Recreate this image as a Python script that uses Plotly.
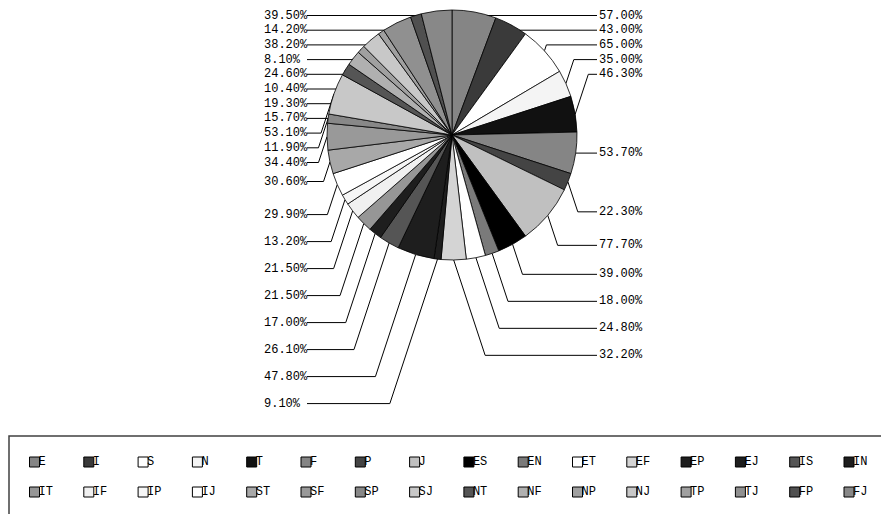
import math
import plotly.graph_objects as go

# Catégories et valeurs (sens horaire depuis midi)
categories = ["E", "I", "S", "N", "T", "F", "P", "J",
              "ES", "EN", "ET", "EF", "EP", "EJ", "IS", "IN",
              "IT", "IF", "IP", "IJ", "ST", "SF", "SP", "SJ",
              "NT", "NF", "NP", "NJ", "TP", "TJ", "FP", "FJ"]
valeurs = [57.0, 43.0, 65.0, 35.0, 46.3, 53.7, 22.3, 77.7,
           39.0, 18.0, 24.8, 32.2, 9.1, 47.8, 26.1, 17.0,
           21.5, 21.5, 13.2, 29.9, 30.6, 34.4, 11.9, 53.1,
           15.7, 19.3, 10.4, 24.6, 8.1, 38.2, 14.2, 39.5]
etiquettes = [f"{v:.2f}%" for v in valeurs]

couleurs = ["#858585", "#3a3a3a", "#ffffff", "#f4f4f4", "#111111", "#858585", "#444444", "#c0c0c0",
            "#000000", "#7a7a7a", "#ffffff", "#d4d4d4", "#1e1e1e", "#1e1e1e", "#555555", "#1e1e1e",
            "#969696", "#f0f0f0", "#f6f6f6", "#ffffff", "#a8a8a8", "#999999", "#888888", "#c8c8c8",
            "#555555", "#b0b0b0", "#a0a0a0", "#c8c8c8", "#a0a0a0", "#909090", "#505050", "#888888"]

W, H = 889, 514
DEC = 8  # marge du <body> de la page : la figure est réduite et le repère décalé d'autant
FW, FH = W - DEC, H - DEC
CX, CY, R = 452, 135, 125  # centre et rayon du camembert (pixels de l'image)
POLICE = "Liberation Mono"

fig = go.Figure()

fig.add_trace(go.Pie(labels=categories, values=valeurs, sort=False, direction="clockwise", rotation=0,
                     marker=dict(colors=couleurs, line=dict(color="black", width=0.8)),
                     textinfo="none", showlegend=False, hoverinfo="label+value",
                     domain=dict(x=[(CX - R - DEC) / FW, (CX + R - DEC) / FW],
                                 y=[1 - (CY + R - DEC) / FH, 1 - (CY - R - DEC) / FH])))

# Placement des étiquettes : à droite et à gauche du camembert
total = sum(valeurs)
cumul = 0
points = []
for i, v in enumerate(valeurs):
    angle = math.radians((cumul + v / 2) / total * 360)
    cumul += v
    points.append((CX + R * math.sin(angle), CY - R * math.cos(angle), math.sin(angle) >= 0))

droite = [i for i in range(len(valeurs)) if points[i][2]]
gauche = [i for i in reversed(range(len(valeurs))) if not points[i][2]]


def place_cote(indices):
    """Renvoie la hauteur de chaque étiquette d'un côté (du haut vers le bas)"""
    pos = {}
    precedent = None
    n_haut = 0
    for i in indices:
        y_nat = points[i][1]
        if y_nat < CY + 5:
            y = 15.5 + n_haut * 14.7
            n_haut += 1
        elif y_nat < CY + 0.3 * R:
            y = max(y_nat, precedent + 19)
        else:
            y = max(y_nat + 30, precedent + 27) if precedent is not None else y_nat + 30
        pos[i] = y
        precedent = y
    return pos


hauteurs = {**place_cote(droite), **place_cote(gauche)}

lx, ly = [], []
for i in range(len(valeurs)):
    xe, ye, a_droite = points[i]
    y = hauteurs[i]
    sens = 1 if a_droite else -1
    xc = xe + sens * 0.33 * abs(y - ye)
    fin = 597 if a_droite else 307
    lx += [xe, xc, fin, None]
    ly += [ye, y, y, None]
    fig.add_annotation(x=597 if a_droite else 262, y=y, xref="x", yref="y", text=etiquettes[i],
                       showarrow=False, xanchor="left", yanchor="middle",
                       font=dict(family=POLICE, size=12, color="black"))

fig.add_trace(go.Scatter(x=lx, y=ly, mode="lines", line=dict(color="black", width=1),
                         hoverinfo="skip", showlegend=False))

# Légende maison : 2 lignes de 16
lg_x = [34.5 + (i % 16) * 54.3 for i in range(len(categories))]
lg_y = [462 + (i // 16) * 30 for i in range(len(categories))]
fig.add_trace(go.Scatter(x=lg_x, y=lg_y, mode="markers",
                         marker=dict(symbol="square", size=10, color=couleurs, line=dict(color="black", width=1)),
                         hoverinfo="skip", showlegend=False))
fig.add_trace(go.Scatter(x=[x + 4 for x in lg_x], y=lg_y, mode="text", text=categories,
                         textposition="middle right", textfont=dict(family=POLICE, size=12, color="black"),
                         hoverinfo="skip", showlegend=False))
# cadre de la légende (déborde en bas et à droite de l'image, comme sur l'original)
fig.add_shape(type="rect", x0=9, x1=900, y0=436, y1=530, xref="x", yref="y",
              line=dict(color="#404040", width=1.5), fillcolor="rgba(0,0,0,0)", layer="below")

fig.update_xaxes(range=[DEC, W], visible=False, domain=[0, 1])
fig.update_yaxes(range=[H, DEC], visible=False, domain=[0, 1])
fig.update_layout(width=FW, height=FH, autosize=False, margin=dict(l=0, r=0, t=0, b=0),
                  plot_bgcolor="white", paper_bgcolor="white", showlegend=False)

fig.write_html("out.html")
